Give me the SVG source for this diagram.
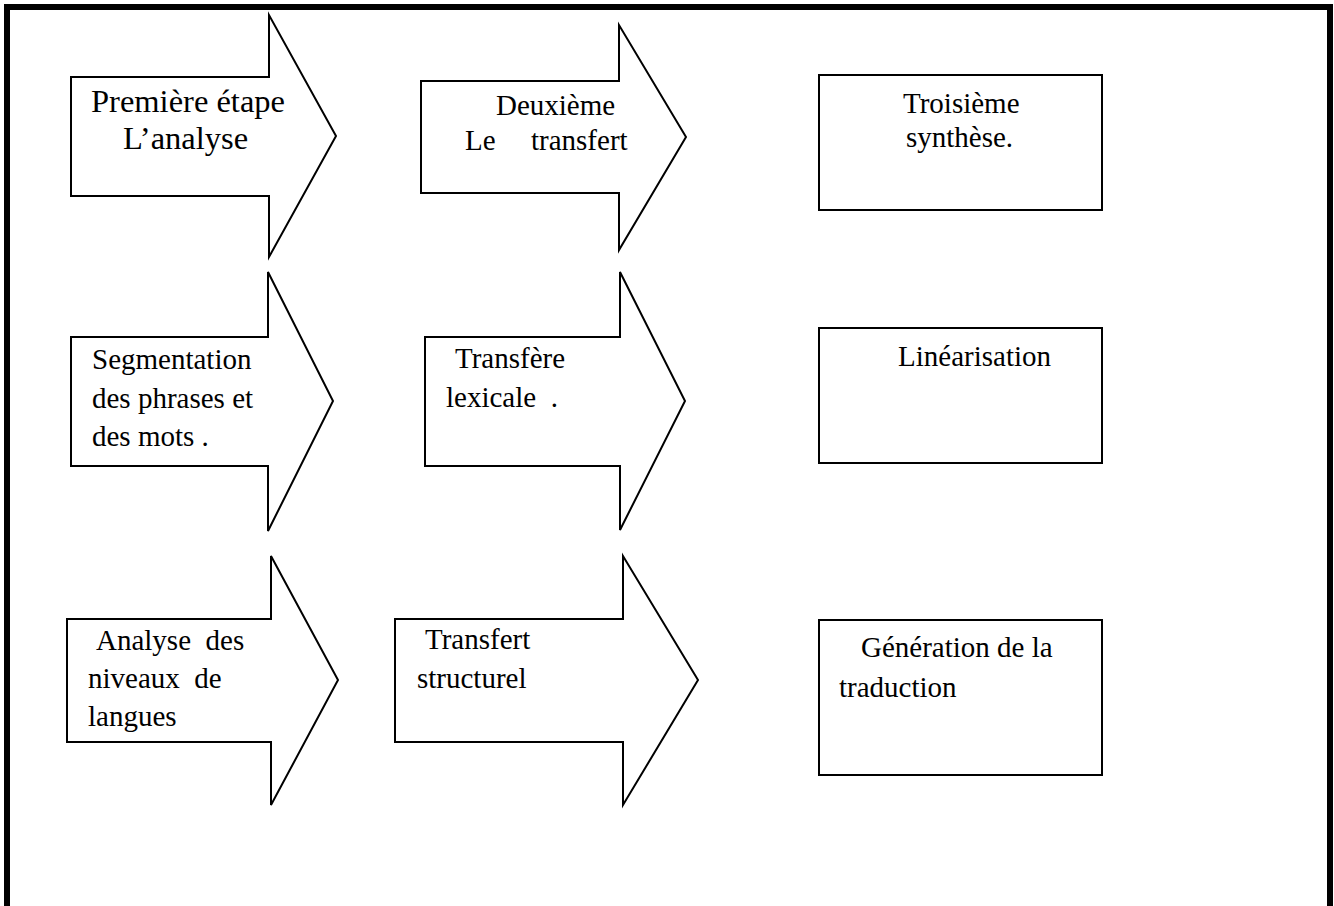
<svg xmlns="http://www.w3.org/2000/svg" width="1334" height="906" viewBox="0 0 1334 906">
<style>
.frame{fill:none;stroke:#000;stroke-width:6}
.arrow{fill:#fff;stroke:#000;stroke-width:2;stroke-linejoin:miter}
.box{fill:#fff;stroke:#000;stroke-width:2}
text{font-family:"Liberation Serif","Times New Roman",serif;font-size:29px;fill:#000}
.big{font-size:32.5px}
</style>
<rect width="1334" height="906" fill="#fff"/>
<path class="frame" d="M7,912 V7 H1330 V912"/>
<g id="connectors"></g>
<g id="arrow-analyse">
<polygon class="arrow" points="71,77 269,77 269,15 336,136 269,257 269,196 71,196"/>
<text class="big" x="91" y="112">Première étape</text>
<text class="big" x="123" y="149">L’analyse</text>
</g>
<g id="arrow-transfert">
<polygon class="arrow" points="421,81 619,81 619,25 686,137 619,250 619,193 421,193"/>
<text x="496" y="115">Deuxième</text>
<text y="150"><tspan x="465">Le</tspan><tspan x="531">transfert</tspan></text>
</g>
<g id="box-synthese">
<rect class="box" x="819" y="75" width="283" height="135"/>
<text x="903" y="113">Troisième</text>
<text x="906" y="147">synthèse.</text>
</g>
<g id="arrow-segmentation">
<polygon class="arrow" points="71,337 268,337 268,272 333,401 268,531 268,466 71,466"/>
<text x="92" y="369">Segmentation</text>
<text x="92" y="408">des phrases et</text>
<text x="92" y="446">des mots .</text>
</g>
<g id="arrow-lexicale">
<polygon class="arrow" points="425,337 620,337 620,272 685,401 620,530 620,466 425,466"/>
<text x="455" y="368">Transfère</text>
<text x="446" y="407" xml:space="preserve">lexicale  .</text>
</g>
<g id="box-linearisation">
<rect class="box" x="819" y="328" width="283" height="135"/>
<text x="898" y="366">Linéarisation</text>
</g>
<g id="arrow-niveaux">
<polygon class="arrow" points="67,619 271,619 271,556 338,680 271,805 271,742 67,742"/>
<text x="96" y="650" xml:space="preserve">Analyse  des</text>
<text x="88" y="688" xml:space="preserve">niveaux  de</text>
<text x="88" y="726">langues</text>
</g>
<g id="arrow-structurel">
<polygon class="arrow" points="395,619 623,619 623,556 698,680 623,805 623,742 395,742"/>
<text x="425" y="649">Transfert</text>
<text x="417" y="688">structurel</text>
</g>
<g id="box-generation">
<rect class="box" x="819" y="620" width="283" height="155"/>
<text x="861" y="657">Génération de la</text>
<text x="839" y="697">traduction</text>
</g>
</svg>
